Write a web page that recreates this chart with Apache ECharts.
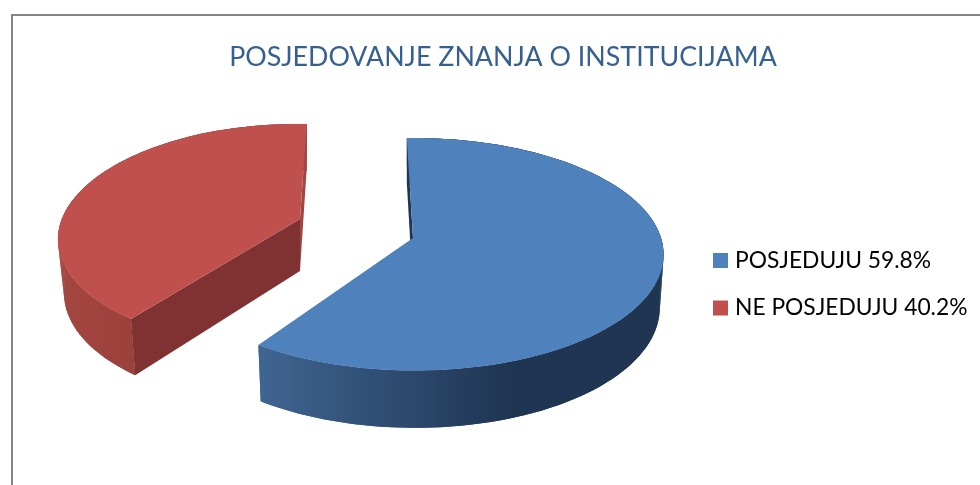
<!DOCTYPE html>
<html><head><meta charset="utf-8">
<style>html,body{margin:0;padding:0;background:#fff}#c{width:980px;height:485px}</style>
<script src="https://cdn.jsdelivr.net/npm/echarts@6/dist/echarts.min.js"></script>
</head><body><div id="c"></div>
<script>
const chartTitle = 'POSJEDOVANJE ZNANJA O INSTITUCIJAMA';
const categories = ['POSJEDUJU', 'NE POSJEDUJU'];
const values = [59.8, 40.2];
const topColors = ['#4F81BD', '#C0504D'];
const total = values.reduce((a, b) => a + b, 0);

// View of each exploded slice: apex position, radii, skew, perspective and wall shading
const views = [
  {cx: 413, cy: 238, rx: 247, ry: 114, skew: 7, tilt: -3, persX: 0.14, persY: 0.14, shrink: 0.985,
   wall: [[259, '#406592'], [510, '#1F3552'], [663, '#1F3552']], startFace: '#1F3552', endFace: null},
  {cx: 300, cy: 219, rx: 236, ry: 110, skew: -8, tilt: 5, persX: 0.19, persY: 0.16, shrink: 0.975,
   wall: [[57, '#A44641'], [135, '#9C403C'], [307, '#9C403C']], startFace: '#7F3231', endFace: '#A04542'}
];
const depth = 52, step = 2;

function project(view, deg, isBottom, radial) {
  const t = deg * Math.PI / 180, r = radial === undefined ? 1 : radial;
  const u = Math.sin(t) * r, v = -Math.cos(t) * r;
  const s = 1 / (1 - view.persY * v), sx = 1 / (1 - view.persX * v);
  const dx = sx * (view.rx * u + view.skew * v), dy = s * (view.ry * v + view.tilt * u);
  if (!isBottom) return [view.cx + dx, view.cy + dy];
  return [view.cx + dx * view.shrink, view.cy + dy + depth * (1 + 0.1 * v)];
}
function arc(view, a0, a1, isBottom) {
  const pts = [];
  for (let a = a0; a < a1; a += step) pts.push(project(view, a, isBottom));
  pts.push(project(view, a1, isBottom));
  return pts;
}
function makeRender(index) {
  const before = values.slice(0, index).reduce((a, b) => a + b, 0);
  return function (params, api) {
    const view = views[index];
    const a0 = before / total * 360;
    const a1 = a0 + api.value(0) / total * 360;
    const top = arc(view, a0, a1, false), bot = arc(view, a0, a1, true);
    const x0 = view.wall[0][0], x1 = view.wall[view.wall.length - 1][0];
    const wallFill = new echarts.graphic.LinearGradient(x0, 0, x1, 0,
      view.wall.map(w => ({offset: (w[0] - x0) / (x1 - x0), color: w[1]})), true);
    const apexT = [view.cx, view.cy], apexB = project(view, 0, true, 0);
    const poly = (points, fill) => ({type: 'polygon', shape: {points}, style: {fill, stroke: null}});
    const children = [poly(top.concat(bot.slice().reverse()), wallFill)];
    // Rim crossings leave gaps in the single ribbon at the silhouette: fill each wall segment too
    for (let i = 0; i + 1 < top.length; i++) {
      children.push(poly([top[i], top[i + 1], bot[i + 1], bot[i]], wallFill));
    }
    if (view.startFace) children.push(poly([top[0], bot[0], apexB, apexT], view.startFace));
    if (view.endFace) children.push(poly([top[top.length - 1], bot[bot.length - 1], apexB, apexT], view.endFace));
    children.push(poly([apexT].concat(top), topColors[index]));
    return {type: 'group', children};
  };
}
const chart = echarts.init(document.getElementById('c'), null, {renderer: 'canvas'});
chart.setOption({
  animation: false,
  backgroundColor: '#fff',
  title: {text: chartTitle, left: 498, top: 39, textAlign: 'center',
    textStyle: {fontFamily: 'Lato', fontSize: 26.8, fontWeight: 'normal', color: '#376092'}},
  legend: {orient: 'vertical', left: 708, top: 244, itemWidth: 15, itemHeight: 15, itemGap: 24.5, icon: 'rect',
    textStyle: {fontFamily: 'Lato', fontSize: 22.8, color: '#000', padding: [0, 0, 0, 2]}},
  graphic: [{type: 'rect', silent: true, z: -1, shape: {x: 12, y: 15, width: 1000, height: 500},
    style: {fill: 'none', stroke: '#868686', lineWidth: 2}}],
  series: categories.map((name, i) => ({
    type: 'custom', name: name + ' ' + values[i].toFixed(1) + '%',
    coordinateSystem: 'none', silent: true,
    itemStyle: {color: topColors[i]},
    renderItem: makeRender(i), data: [[values[i]]]
  }))
});
</script></body></html>
